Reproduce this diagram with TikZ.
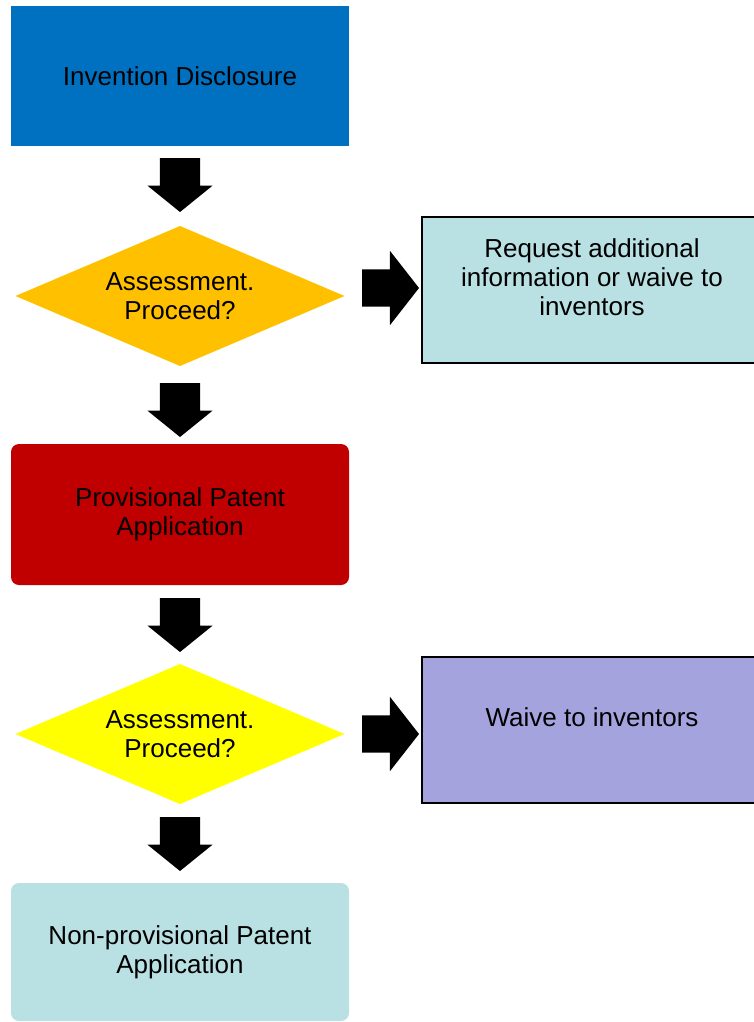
\documentclass[tikz,border=0pt]{standalone}
\usepackage{fontspec}
\setmainfont{Liberation Sans}
\usetikzlibrary{shapes.geometric, shapes.arrows, calc}

\definecolor{discblue}{HTML}{0070C0}
\definecolor{assorange}{HTML}{FFC000}
\definecolor{provred}{HTML}{C00000}
\definecolor{assyellow}{HTML}{FFFF00}
\definecolor{paleteal}{RGB}{185,224,227}
\definecolor{waivelilac}{RGB}{165,163,222}

\begin{document}
\begin{tikzpicture}[
    x=1pt, y=-1pt,
    lbl/.style={font=\fontsize{26}{29}\selectfont, align=center, text=black},
    box/.style={lbl, rectangle, inner sep=0pt, outer sep=0pt, minimum width=338pt},
    roundbox/.style={box, rounded corners=8pt},
    decision/.style={lbl, diamond, inner sep=0pt, outer sep=0pt,
        minimum width=329pt, minimum height=140pt, aspect=2.35},
    sidebox/.style={rectangle, draw=black, line width=1.3pt, inner sep=0pt,
        outer sep=0pt, minimum width=340pt, minimum height=146pt},
    downarr/.style={single arrow, fill=black, draw=none, inner xsep=0pt, inner ysep=20pt,
        outer sep=0pt, minimum height=54pt, single arrow head extend=12.5pt,
        single arrow tip angle=102, rotate=-90, anchor=tip},
    rightarr/.style={single arrow, fill=black, draw=none, inner xsep=0pt, inner ysep=18.5pt,
        outer sep=0pt, minimum height=57pt, single arrow head extend=18.5pt,
        single arrow tip angle=104, anchor=tip},
]
\def\xm{180}    % x of the main column
\def\xs{592}    % x of the side boxes

\clip (0,0) rectangle (754,1022);

% main column
\node[box, fill=discblue, minimum height=140pt] (disc) at (\xm,76)
      {Invention Disclosure};
\node[decision, fill=assorange] (assA) at (\xm,296) {Assessment.\\Proceed?};
\node[roundbox, fill=provred, minimum height=141pt] (prov) at (\xm,514.5)
      {Provisional Patent\\Application};
\node[decision, fill=assyellow] (assB) at (\xm,734) {Assessment.\\Proceed?};
\node[roundbox, fill=paleteal, minimum height=138pt] (nonprov) at (\xm,952)
      {Non-provisional Patent\\Application};

% side boxes (text sits a bit above the middle)
\node[sidebox, fill=paleteal] (info) at (\xs,290) {};
\node[lbl] (infotxt) at ([yshift=13pt]info.center)
      {Request additional\\information or waive to\\inventors};
\node[sidebox, fill=waivelilac] (waive) at (\xs,730) {};
\node[lbl] (waivetxt) at ([yshift=13pt]waive.center) {Waive to inventors};

% block arrows down
\node[downarr] (arrA) at ([yshift=14pt]assA.north) {};
\node[downarr] (arrB) at ([yshift=7pt]prov.north) {};
\node[downarr] (arrC) at ([yshift=12pt]assB.north) {};
\node[downarr] (arrD) at ([yshift=12pt]nonprov.north) {};

% block arrows right
\node[rightarr] (arrE) at ([shift={(-3pt,2pt)}]info.west) {};
\node[rightarr] (arrF) at ([shift={(-3pt,-4pt)}]waive.west) {};
\end{tikzpicture}
\end{document}
